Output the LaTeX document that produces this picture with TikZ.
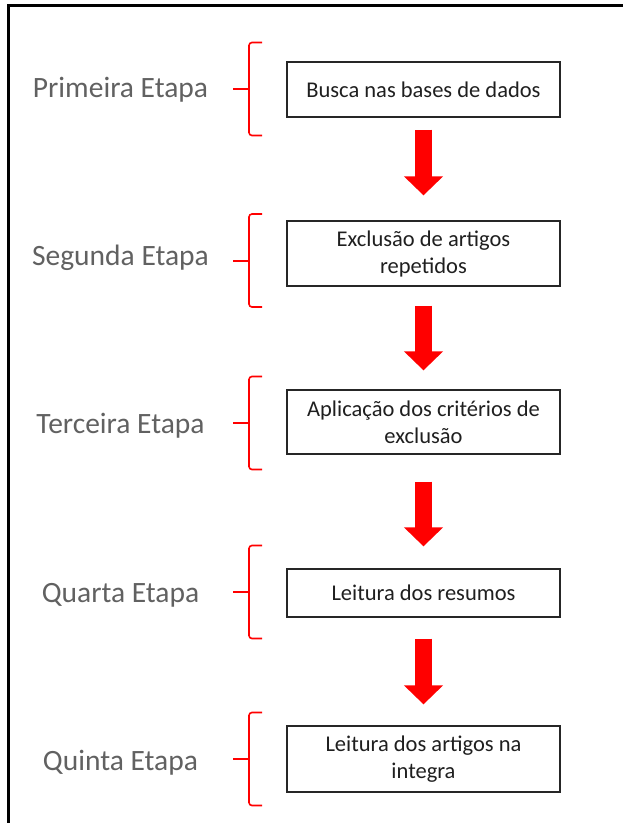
\documentclass[tikz,border=0pt]{standalone}
\usepackage{fontspec}
\setmainfont{Carlito}
\usetikzlibrary{arrows.meta}

\tikzset{
  etapa/.style={font=\fontsize{29.5}{33}\selectfont, text=black!62, anchor=base},
  caixa/.style={draw=black!85, line width=1.3pt, minimum width=273pt, inner sep=0pt,
    align=center, font=\fontsize{22.5}{27}\selectfont, text=black!88},
  seta/.style={red, line width=17pt, -{Triangle[width=38pt,length=19pt]}},
  chave/.pic={
    \draw[red, line width=1.6pt, rounded corners=3pt] (13,-46.5) -- (0,-46.5) -- (0,46.5) -- (13,46.5);
    \draw[red, line width=2pt] (0,0) -- (-16,0);
  }
}

\begin{document}
\begin{tikzpicture}[x=1pt,y=-1pt]
  \useasboundingbox (0,0) rectangle (623,823);
  % moldura
  \draw[line width=3pt] (8,830) -- (8,5) -- (630,5);
  % etapas
  \node[etapa] (e1) at (120.5,97) {Primeira Etapa};
  \node[etapa] (e2) at (120.5,265) {Segunda Etapa};
  \node[etapa] (e3) at (120.5,433.5) {Terceira Etapa};
  \node[etapa] (e4) at (120.5,602) {Quarta Etapa};
  \node[etapa] (e5) at (120.5,770) {Quinta Etapa};
  % caixas
  \node[caixa, minimum height=55pt] (c1) at (423.5,89.5) {Busca nas bases de dados};
  \node[caixa, minimum height=65pt] (c2) at (423.5,253.5) {Exclusão de artigos\\repetidos};
  \node[caixa, minimum height=64pt] (c3) at (423.5,422) {Aplicação dos critérios de\\exclusão};
  \node[caixa, minimum height=48pt] (c4) at (423.5,593) {Leitura dos resumos};
  \node[caixa, minimum height=66pt] (c5) at (423.5,759) {Leitura dos artigos na\\integra};
  % chaves
  \pic at (249,89) {chave};
  \pic at (249,260.5) {chave};
  \pic at (249,423) {chave};
  \pic at (249,592) {chave};
  \pic at (249,759) {chave};
  % setas
  \draw[seta, shorten <=12pt, shorten >=25pt] (c1) -- (c2);
  \draw[seta, shorten <=19pt, shorten >=19pt] (c2) -- (c3);
  \draw[seta, shorten <=27pt, shorten >=22pt] (c3) -- (c4);
  \draw[seta, shorten <=21pt, shorten >=21pt] (c4) -- (c5);
\end{tikzpicture}
\end{document}
